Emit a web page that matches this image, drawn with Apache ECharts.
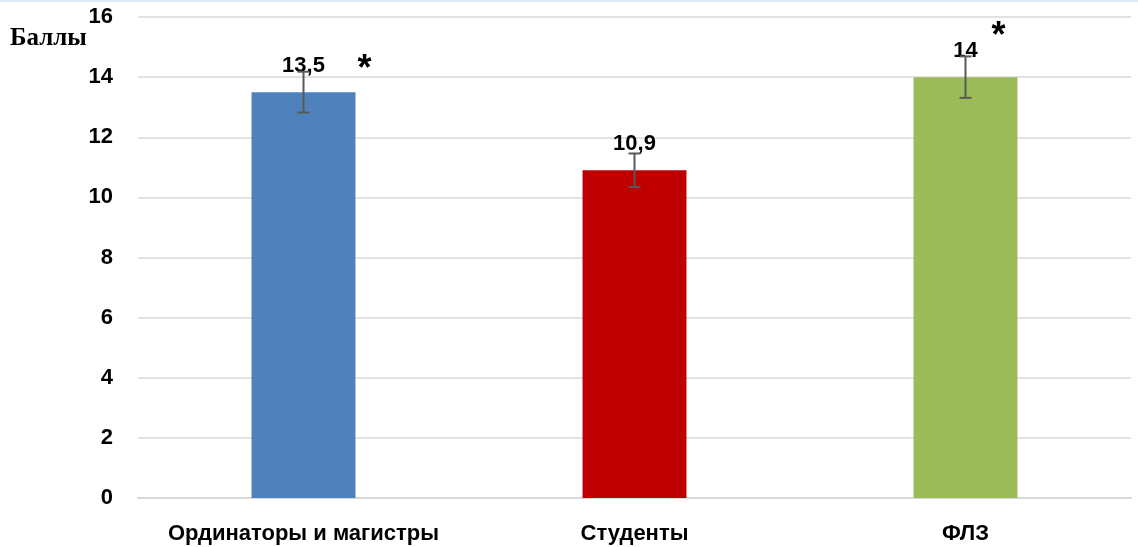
<!DOCTYPE html>
<html><head><meta charset="utf-8">
<script src="https://cdn.jsdelivr.net/npm/echarts@6/dist/echarts.min.js"></script>
<style>html,body{margin:0;padding:0;background:#fff}#c{width:1138px;height:547px}</style>
</head><body><div id="c"></div>
<script>
const categories = ['Ординаторы и магистры', 'Студенты', 'ФЛЗ'];
const values = [13.5, 10.9, 14];
const errors = [0.68, 0.56, 0.69];
const significant = [true, false, true];
const valueLabels = ['13,5', '10,9', '14'];
const yTicks = [0, 2, 4, 6, 8, 10, 12, 14, 16];

const colors = ['#4F81BD', '#C00000', '#9BBB59'];
const starOffsets = [[61, -10], [0, 0], [33, -27]];
const FONT = 'Arial, "Liberation Sans", sans-serif';

const chart = echarts.init(document.getElementById('c'));
chart.setOption({
  animation: false,
  backgroundColor: '#fff',
  grid: { left: 138, right: 7, top: 17, bottom: 49 },
  graphic: [
    { type: 'line', shape: { x1: 0, y1: 1, x2: 1138, y2: 1 }, style: { stroke: '#dce9f6', lineWidth: 2 } },
    { type: 'text', left: 10, top: 26, style: { text: 'Баллы', font: 'bold 25px "Liberation Serif", "Times New Roman", serif', fill: '#000' } }
  ],
  xAxis: {
    type: 'category', data: categories,
    axisLine: { lineStyle: { color: '#d9d9d9', width: 2 } },
    axisTick: { show: false },
    axisLabel: { interval: 0, hideOverlap: false, color: '#000', fontWeight: 'bold', fontSize: 22, fontFamily: FONT, margin: 25 }
  },
  yAxis: {
    type: 'value', min: yTicks[0], max: yTicks[yTicks.length - 1], interval: 2,
    axisLine: { show: false }, axisTick: { show: false },
    splitLine: { lineStyle: { color: '#d9d9d9', width: 1.5 } },
    axisLabel: { color: '#000', fontWeight: 'bold', fontSize: 22, fontFamily: FONT, margin: 25 }
  },
  series: [
    {
      type: 'bar', barWidth: '31.4%',
      data: values.map((v, i) => ({ value: v, itemStyle: { color: colors[i] } })),
      label: {
        show: true, position: 'top', distance: 15,
        formatter: p => valueLabels[p.dataIndex],
        color: '#000', fontWeight: 'bold', fontSize: 22, fontFamily: FONT
      }
    },
    {
      type: 'custom',
      data: values.map((v, i) => [i, v, errors[i]]),
      z: 5,
      renderItem: function (params, api) {
        const i = api.value(0), v = api.value(1), e = api.value(2);
        const top = api.coord([i, v + e]);
        const bot = api.coord([i, v - e]);
        const cap = 6;
        const children = [
          { type: 'line', shape: { x1: top[0], y1: top[1], x2: bot[0], y2: bot[1] }, style: { stroke: '#595959', lineWidth: 2 } },
          { type: 'line', shape: { x1: top[0] - cap, y1: top[1], x2: top[0] + cap, y2: top[1] }, style: { stroke: '#595959', lineWidth: 2 } },
          { type: 'line', shape: { x1: bot[0] - cap, y1: bot[1], x2: bot[0] + cap, y2: bot[1] }, style: { stroke: '#595959', lineWidth: 2 } }
        ];
        if (significant[params.dataIndex]) {
          const off = starOffsets[params.dataIndex];
          children.push({ type: 'text', style: { text: '*', x: top[0] + off[0], y: top[1] + off[1] + 8, align: 'center', verticalAlign: 'middle', font: 'bold 36px Arial, "Liberation Sans", sans-serif', fill: '#000' } });
        }
        return { type: 'group', children };
      }
    }
  ]
});
</script></body></html>
